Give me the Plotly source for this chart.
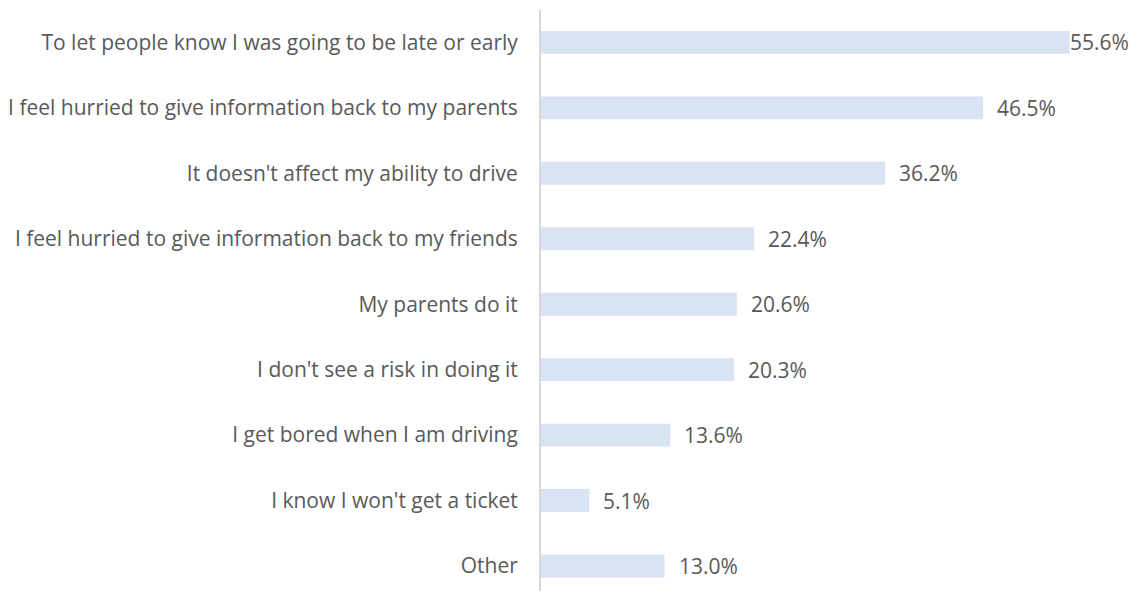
import plotly.graph_objects as go

categories = [
    "To let people know I was going to be late or early",
    "I feel hurried to give information back to my parents",
    "It doesn't affect my ability to drive",
    "I feel hurried to give information back to my friends",
    "My parents do it",
    "I don't see a risk in doing it",
    "I get bored when I am driving",
    "I know I won't get a ticket",
    "Other",
]
values = [55.6, 46.5, 36.2, 22.4, 20.6, 20.3, 13.6, 5.1, 13.0]

BAR = "#DAE3F3"
TXT = "#595959"
FONT = "Open Sans"
FS = 21
XMAX = 62.8

fig = go.Figure()
fig.add_trace(go.Bar(
    x=values, y=categories, orientation="h",
    marker=dict(color=BAR, line=dict(width=0)),
    width=0.35, hoverinfo="skip",
))

vmax = max(values)
for c, v in zip(categories, values):
    fig.add_annotation(
        x=v, y=c, xref="x", yref="y",
        text=f"{v:.1f}%", showarrow=False,
        xanchor="left", xshift=-2 if v == vmax else 12,
        font=dict(family=FONT, size=FS, color=TXT),
    )

fig.update_layout(
    width=1138, height=591,
    margin=dict(l=541, r=0, t=10, b=0, autoexpand=False),
    paper_bgcolor="white", plot_bgcolor="white",
    showlegend=False,
    bargap=0.65,
    font=dict(family=FONT, size=FS, color=TXT),
)
fig.update_xaxes(range=[0, XMAX], visible=False, showgrid=False, zeroline=False,
                 automargin=False)
fig.update_yaxes(
    categoryorder="array", categoryarray=categories,
    range=[8.382, -0.495], automargin=False,
    showline=True, linecolor="#D9D9D9", linewidth=2,
    ticks="", ticklabelstandoff=17, showgrid=False, zeroline=False,
    tickfont=dict(family=FONT, size=FS, color=TXT),
)

fig.write_html("out.html")
